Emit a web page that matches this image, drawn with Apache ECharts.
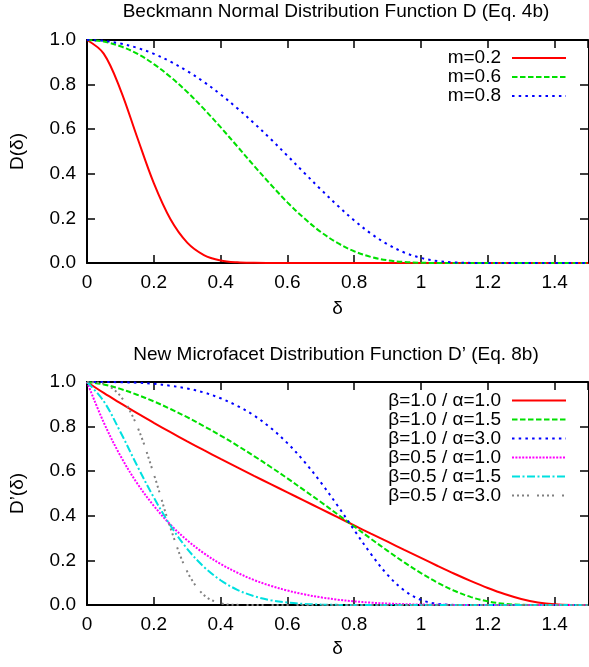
<!DOCTYPE html>
<html>
<head>
<meta charset="utf-8">
<script src="https://cdn.jsdelivr.net/npm/echarts@6/dist/echarts.min.js"></script>
<style>
  html, body { margin: 0; padding: 0; background: #fff; }
  #chart { width: 589px; height: 667px; }
</style>
</head>
<body>
<div id="chart"></div>
<script>
// δ sample points (0 .. 1.5, step 0.05)
const delta = [0, 0.05, 0.1, 0.15, 0.2, 0.25, 0.3, 0.35, 0.4, 0.45, 0.5, 0.55, 0.6, 0.65, 0.7, 0.75,
  0.8, 0.85, 0.9, 0.95, 1.0, 1.05, 1.1, 1.15, 1.2, 1.25, 1.3, 1.35, 1.4, 1.45, 1.5]

// Beckmann D
const beckM02 = [1, 0.939, 0.778, 0.565, 0.358, 0.196, 0.0914, 0.0358, 0.0115, 0.0029, 0.0006, 0.0001, 0, 0, 0, 0,
  0, 0, 0, 0, 0, 0, 0, 0, 0, 0, 0, 0, 0, 0, 0]
const beckM06 = [1, 0.993, 0.972, 0.939, 0.892, 0.834, 0.767, 0.691, 0.609, 0.523, 0.436, 0.352, 0.272, 0.201, 0.139, 0.0898,
  0.0526, 0.0273, 0.0121, 0.0044, 0.0012, 0.0002, 0, 0, 0, 0, 0, 0, 0, 0, 0]
const beckM08 = [1, 0.996, 0.984, 0.965, 0.938, 0.903, 0.861, 0.812, 0.756, 0.694, 0.627, 0.556, 0.481, 0.405, 0.330, 0.258,
  0.191, 0.132, 0.0836, 0.0471, 0.0226, 0.0087, 0.0024, 0.0004, 0, 0, 0, 0, 0, 0, 0]

// new microfacet D'
const b10a10 = [1, 0.951, 0.905, 0.860, 0.817, 0.775, 0.734, 0.694, 0.655, 0.617, 0.579, 0.542, 0.505, 0.468, 0.431, 0.394,
  0.357, 0.320, 0.284, 0.247, 0.211, 0.175, 0.140, 0.107, 0.0764, 0.0493, 0.0273, 0.0116, 0.0030, 0.0003, 0]
const b10a15 = [1, 0.989, 0.969, 0.943, 0.913, 0.879, 0.842, 0.802, 0.760, 0.715, 0.668, 0.619, 0.568, 0.515, 0.462, 0.407,
  0.352, 0.297, 0.243, 0.191, 0.143, 0.100, 0.0637, 0.0354, 0.0162, 0.0054, 0.0011, 0.0001, 0, 0, 0]
const b10a30 = [1, 1.0, 0.999, 0.997, 0.992, 0.983, 0.971, 0.953, 0.927, 0.893, 0.850, 0.794, 0.726, 0.644, 0.550, 0.446,
  0.336, 0.229, 0.135, 0.0649, 0.0229, 0.0050, 0.0005, 0, 0, 0, 0, 0, 0, 0, 0]
const b05a10 = [1, 0.819, 0.669, 0.546, 0.445, 0.360, 0.290, 0.232, 0.184, 0.145, 0.112, 0.0861, 0.0648, 0.0478, 0.0344, 0.0241,
  0.0163, 0.0105, 0.0065, 0.0037, 0.0020, 0.0009, 0.0004, 0.0001, 0, 0, 0, 0, 0, 0, 0]
const b05a15 = [1, 0.914, 0.776, 0.625, 0.482, 0.356, 0.252, 0.171, 0.111, 0.0682, 0.0396, 0.0215, 0.0108, 0.0050, 0.0021, 0.0008,
  0.0002, 0.0001, 0, 0, 0, 0, 0, 0, 0, 0, 0, 0, 0, 0, 0]
const b05a30 = [1, 0.992, 0.937, 0.802, 0.587, 0.345, 0.150, 0.0445, 0.0079, 0.0007, 0, 0, 0, 0, 0, 0,
  0, 0, 0, 0, 0, 0, 0, 0, 0, 0, 0, 0, 0, 0, 0]

const xTicks = { min: 0, max: 1.5, interval: 0.2 }
const yTicks = { min: 0, max: 1, interval: 0.2 }

const FONT = "'Liberation Sans', Arial, sans-serif"
const FS = 19

const myChart = echarts.init(document.getElementById('chart'))

function pairs (ys) {
  return delta.map((d, i) => [d, ys[i]])
}

function xAx (grid, pos, name, gap) {
  return {
    type: 'value',
    gridIndex: grid,
    position: pos,
    min: xTicks.min,
    max: xTicks.max,
    interval: xTicks.interval,
    name: name,
    nameLocation: 'middle',
    nameGap: gap,
    nameTextStyle: { fontFamily: FONT, fontSize: FS, color: '#000' },
    axisLine: { show: true, onZero: false, lineStyle: { color: '#000', width: 2 } },
    axisTick: { show: true, inside: true, length: 8, lineStyle: { color: '#000', width: 1.5 } },
    axisLabel: {
      show: pos === 'bottom',
      showMaxLabel: false,
      margin: 10,
      fontFamily: FONT,
      fontSize: FS,
      color: '#000'
    },
    splitLine: { show: false }
  }
}

function yAx (grid, pos, name) {
  return {
    type: 'value',
    gridIndex: grid,
    position: pos,
    min: yTicks.min,
    max: yTicks.max,
    interval: yTicks.interval,
    name: name,
    nameLocation: 'middle',
    nameGap: 60,
    nameTextStyle: { fontFamily: FONT, fontSize: FS, color: '#000' },
    axisLine: { show: true, onZero: false, lineStyle: { color: '#000', width: pos === 'left' ? 2 : 1 } },
    axisTick: { show: true, inside: true, length: 8, lineStyle: { color: '#000', width: 1.5 } },
    axisLabel: {
      show: pos === 'left',
      margin: 11,
      fontFamily: FONT,
      fontSize: FS,
      color: '#000',
      formatter: v => v.toFixed(1)
    },
    splitLine: { show: false }
  }
}

function line (name, ys, grid, color, dash) {
  return {
    name: name,
    type: 'line',
    xAxisIndex: grid * 2,
    yAxisIndex: grid * 2,
    data: pairs(ys),
    symbol: 'none',
    smooth: 0.35,
    color: color,
    lineStyle: { color: color, width: 2, type: dash }
  }
}

function legendBox (names, top, lh) {
  return {
    data: names,
    orient: 'vertical',
    align: 'right',
    right: 22,
    top: top,
    padding: 0,
    itemGap: 0,
    itemWidth: 54,
    itemHeight: 12,
    selectedMode: false,
    itemStyle: { opacity: 0 },
    textStyle: { fontFamily: FONT, fontSize: FS, lineHeight: lh, color: '#000', padding: [0, 6, 0, 0] }
  }
}

const option = {
  animation: false,
  backgroundColor: '#fff',
  title: [
    {
      text: 'Beckmann Normal Distribution Function D (Eq. 4b)',
      left: 336,
      top: 2,
      textAlign: 'center',
      padding: 0,
      textStyle: { fontFamily: FONT, fontSize: FS, fontWeight: 'normal', color: '#000' }
    },
    {
      text: 'New Microfacet Distribution Function D’ (Eq. 8b)',
      left: 336,
      top: 345,
      textAlign: 'center',
      padding: 0,
      textStyle: { fontFamily: FONT, fontSize: FS, fontWeight: 'normal', color: '#000' }
    }
  ],
  legend: [
    legendBox(['m=0.2', 'm=0.6', 'm=0.8'], 48.5, 19),
    legendBox(['β=1.0 / α=1.0', 'β=1.0 / α=1.5', 'β=1.0 / α=3.0', 'β=0.5 / α=1.0', 'β=0.5 / α=1.5', 'β=0.5 / α=3.0'], 391, 18.6)
  ],
  grid: [
    { left: 83, right: 1, top: 40, height: 223 },
    { left: 83, right: 1, top: 382, height: 223 }
  ],
  xAxis: [
    xAx(0, 'bottom', 'δ', 36),
    xAx(0, 'top', '', 0),
    xAx(1, 'bottom', 'δ', 34),
    xAx(1, 'top', '', 0)
  ],
  yAxis: [
    yAx(0, 'left', 'D(δ)'),
    yAx(0, 'right', ''),
    yAx(1, 'left', 'D’(δ)'),
    yAx(1, 'right', '')
  ],
  series: [
    line('m=0.2', beckM02, 0, '#ff0000', 'solid'),
    line('m=0.6', beckM06, 0, '#00e000', [5.5, 2.5]),
    line('m=0.8', beckM08, 0, '#0000ff', [2.5, 4.2]),
    line('β=1.0 / α=1.0', b10a10, 1, '#ff0000', 'solid'),
    line('β=1.0 / α=1.5', b10a15, 1, '#00e000', [5.5, 2.5]),
    line('β=1.0 / α=3.0', b10a30, 1, '#0000ff', [2.5, 4.2]),
    line('β=0.5 / α=1.0', b05a10, 1, '#ff00ff', [2, 1.4]),
    line('β=0.5 / α=1.5', b05a15, 1, '#00e0e0', [8, 2.5, 2, 2.5]),
    line('β=0.5 / α=3.0', b05a30, 1, '#808080', [2, 3, 2, 3, 2, 3, 2, 8])
  ]
}

myChart.setOption(option)
</script>
</body>
</html>
